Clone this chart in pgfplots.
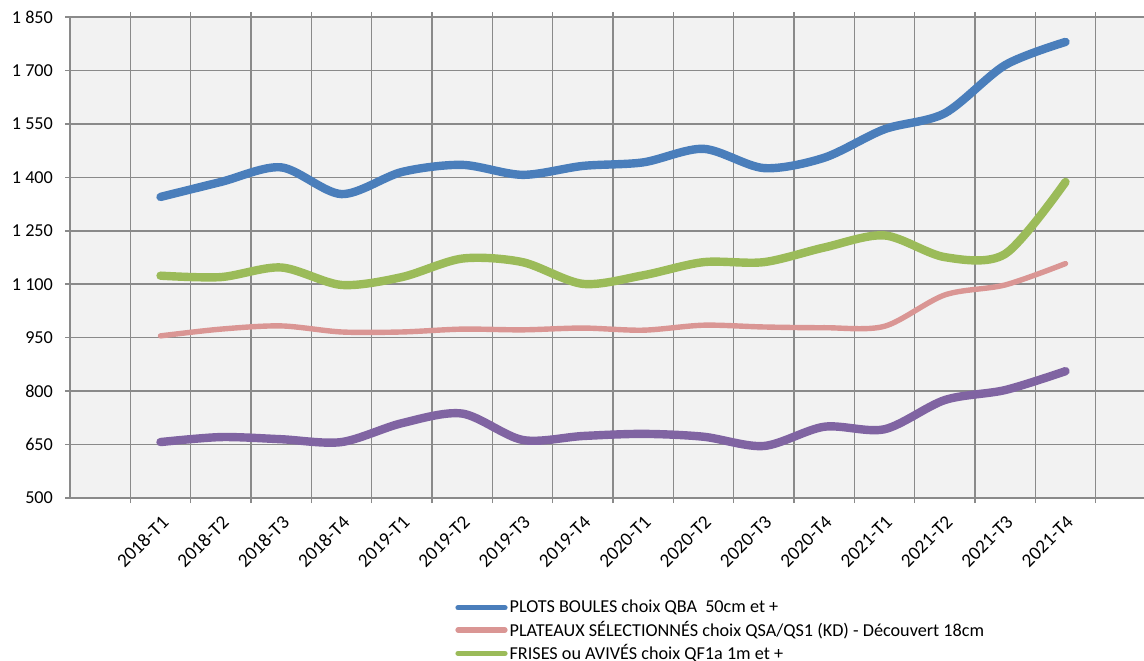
\documentclass[border=0pt]{standalone}
\usepackage{fontspec}
\setmainfont{Carlito}
\usepackage{pgfplots}
\pgfplotsset{compat=1.18}
\definecolor{cBlue}{HTML}{4A7EBB}
\definecolor{cPink}{HTML}{DA9694}
\definecolor{cGreen}{HTML}{9BBB59}
\definecolor{cPurple}{HTML}{8064A2}
\definecolor{cGrid}{HTML}{8A8A8A}
\definecolor{cBack}{HTML}{F2F2F2}
\begin{document}
\begin{tikzpicture}
\begin{axis}[
  at={(35pt,81pt)}, anchor=south west,
  scale only axis, width=543pt, height=240.5pt,
  xmin=-1.5, xmax=16.5, ymin=500, ymax=1850,
  axis background/.style={fill=cBack},
  axis line style={draw=cGrid, line width=1pt},
  xtick={-0.5,0.5,...,15.5},
  x tick label as interval,
  xticklabels={2018-T1,2018-T2,2018-T3,2018-T4,2019-T1,2019-T2,2019-T3,2019-T4,2020-T1,2020-T2,2020-T3,2020-T4,2021-T1,2021-T2,2021-T3,2021-T4},
  xticklabel style={yshift=-4pt, rotate=45, anchor=north east, inner sep=1pt, font=\fontsize{9.6}{11}\selectfont},
  ytick={500,650,...,1850},
  yticklabels={500,650,800,950,1 100,1 250,1 400,1 550,1 700,1 850},
  yticklabel style={xshift=-2.5pt, font=\fontsize{9.1}{11}\selectfont},
  tick align=outside, major tick length=2.5pt,
  tick style={draw=cGrid, line width=0.75pt},
  grid=major,
  major grid style={draw=cGrid, line width=0.75pt},
  legend style={at={(0.3545,-0.207)}, anchor=north west, draw=none, fill=none,
    font=\fontsize{9.1}{10}\selectfont, row sep=0.6pt, inner sep=0pt,
    nodes={inner sep=1pt}},
  legend cell align=left,
  legend image code/.code={\draw[#1, line width=2.6pt, line cap=round] (0pt,0pt) -- (23.5pt,0pt);},
]
\addplot[cBlue, line width=4.2pt, smooth, line cap=round] coordinates {
(0,1345)(1,1387)(2,1428)(3,1353)(4,1415)(5,1435)(6,1407)(7,1432)(8,1442)(9,1480)(10,1426)(11,1455)(12,1535)(13,1580)(14,1715)(15,1780)};
\addlegendentry{PLOTS BOULES choix QBA\ \ 50cm et +}
\addplot[cPink, line width=2.7pt, smooth, line cap=round] coordinates {
(0,955)(1,974)(2,983)(3,966)(4,966)(5,974)(6,972)(7,977)(8,971)(9,985)(10,980)(11,978)(12,982)(13,1070)(14,1098)(15,1158)};
\addlegendentry{PLATEAUX SÉLECTIONNÉS choix QSA/QS1 (KD) - Découvert 18cm}
\addplot[cGreen, line width=4.2pt, smooth, line cap=round] coordinates {
(0,1124)(1,1120)(2,1147)(3,1098)(4,1120)(5,1172)(6,1162)(7,1101)(8,1125)(9,1162)(10,1162)(11,1203)(12,1237)(13,1176)(14,1185)(15,1387)};
\addlegendentry{FRISES ou AVIVÉS choix QF1a 1m et +}
\addplot[cPurple, line width=4.2pt, smooth, line cap=round, forget plot] coordinates {
(0,657)(1,671)(2,665)(3,657)(4,710)(5,737)(6,663)(7,674)(8,680)(9,672)(10,646)(11,700)(12,693)(13,775)(14,803)(15,856)};
\end{axis}
\pgfresetboundingbox
\path[use as bounding box] (0,0) rectangle (572pt,330pt);
\end{tikzpicture}
\end{document}
